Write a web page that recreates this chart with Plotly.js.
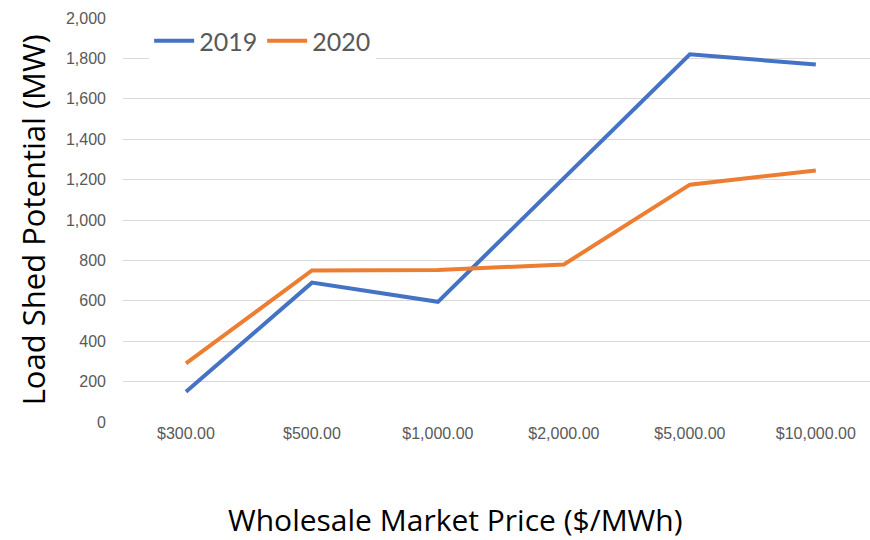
<!DOCTYPE html>
<html><head><meta charset="utf-8">
<script src="https://cdn.plot.ly/plotly-3.0.1.min.js"></script>
<style>html,body{margin:0;padding:0;background:#fff}</style>
</head><body>
<div id="chart" style="width:870px;height:540px"></div>
<script>
const categories = ["$300.00", "$500.00", "$1,000.00", "$2,000.00", "$5,000.00", "$10,000.00"];
const values2019 = [150, 690, 595, 1210, 1820, 1770];
const values2020 = [290, 750, 752, 780, 1175, 1245];
const yTickVals = [0, 200, 400, 600, 800, 1000, 1200, 1400, 1600, 1800, 2000];
const yTickText = ["0", "200", "400", "600", "800", "1,000", "1,200", "1,400", "1,600", "1,800", "2,000"];

const traces = [
  {x: categories, y: values2019, name: "2019", type: "scatter", mode: "lines",
   line: {color: "#4472C4", width: 4}},
  {x: categories, y: values2020, name: "2020", type: "scatter", mode: "lines",
   line: {color: "#ED7D31", width: 4}}
];

const layout = {
  width: 870, height: 540,
  margin: {l: 123, r: 0, t: 18, b: 118},
  paper_bgcolor: "#fff", plot_bgcolor: "#fff",
  showlegend: true,
  legend: {orientation: "h", x: 0.035, y: 1.0, xanchor: "left", yanchor: "top",
           bgcolor: "#fff", font: {family: "Lato, 'Open Sans', sans-serif", size: 25, color: "#595959"},
           itemwidth: 40, tracegroupgap: 0},
  xaxis: {type: "category", range: [-0.5, 5.43], showgrid: false, zeroline: false,
          showline: false, ticks: "", ticklen: 0,
          tickfont: {family: "'Liberation Sans Narrow', 'Liberation Sans', sans-serif", size: 16, color: "#595959"}},
  yaxis: {range: [0, 2000], tickvals: yTickVals, ticktext: yTickText, showgrid: true,
          gridcolor: "#d9d9d9", gridwidth: 1, zeroline: false, showline: false,
          ticks: "", ticklabelstandoff: 16,
          tickfont: {family: "'Liberation Sans Narrow', 'Liberation Sans', sans-serif", size: 16, color: "#595959"}},
  annotations: [
    {text: "Load Shed Potential (MW)", xref: "paper", yref: "paper", x: -0.12, y: 0.5,
     xanchor: "center", yanchor: "middle", textangle: -90, showarrow: false,
     font: {family: "'Open Sans', sans-serif", size: 31, color: "#000"}},
    {text: "Wholesale Market Price ($/MWh)", xref: "paper", yref: "paper", x: 0.445, y: 0,
     xanchor: "center", yanchor: "middle", showarrow: false, yshift: -97,
     font: {family: "'Open Sans', sans-serif", size: 30, color: "#000"}}
  ]
};
Plotly.newPlot("chart", traces, layout, {displayModeBar: false, staticPlot: true});
</script>
</body></html>
